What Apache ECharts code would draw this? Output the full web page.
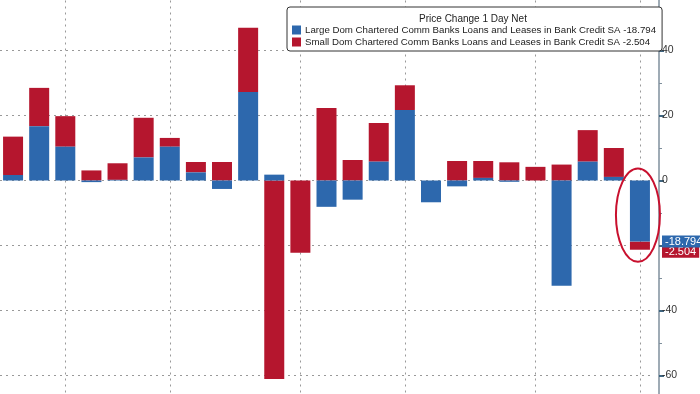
<!DOCTYPE html>
<html><head><meta charset="utf-8">
<script src="https://cdn.jsdelivr.net/npm/echarts@6/dist/echarts.min.js"></script>
<style>html,body{margin:0;padding:0;background:#fff;overflow:hidden;width:700px;height:394px;position:relative}#c{position:absolute;left:0;top:-20px;width:700px;height:466px}</style>
</head><body><div id="c"></div>
<script>
const categories = ['W1','W2','W3','W4','W5','W6','W7','W8','W9','W10','W11','W12','W13','W14','W15','W16','W17','W18','W19','W20','W21','W22','W23','W24','W25'];
const largeBanks = [1.7,16.7,10.4,-0.5,0.2,7.1,10.4,2.5,-2.6,27.2,1.8,0,-8.1,-5.9,5.8,21.7,-6.7,-1.8,0.8,-0.4,0,-32.4,5.8,1.1,-18.794];
const smallBanks = [11.8,11.8,9.4,3.1,5.1,12.2,2.7,3.2,5.7,19.8,-61.1,-22.2,22.3,6.3,11.9,7.6,0,6.0,5.2,5.6,4.2,4.9,9.7,8.9,-2.504];
const monthStartIdx = [2,6,11,15,20,24];
const largeName = 'Large Dom Chartered Comm Banks Loans and Leases in Bank Credit SA';
const smallName = 'Small Dom Chartered Comm Banks Loans and Leases in Bank Credit SA';
const titleText = 'Price Change 1 Day Net';

const BLUE = '#2d68ad', RED = '#b5162e';
const lastL = largeBanks[largeBanks.length-1];
const lastS = smallBanks[smallBanks.length-1];
const lastTotal = lastL + lastS;
const FONT = 'Liberation Sans';
const SHIFT = 20; // chart canvas starts 20px above the page

const chart = echarts.init(document.getElementById('c'));
const dotted = {color:'#999', type:[2,4], width:1};
const hidden = {color:'rgba(0,0,0,0)', width:0};
chart.setOption({
  animation:false,
  backgroundColor:'#fff',
  textStyle:{fontFamily:FONT},
  title:{text:titleText, left:473, top:14+SHIFT, padding:0, textAlign:'center',
    textStyle:{fontSize:10, fontWeight:'normal', color:'#222', fontFamily:FONT}, z:10},
  legend:{
    data:[largeName, smallName], orient:'vertical', left:287, top:7+SHIFT,
    padding:[18,6,4,5], itemGap:2, itemWidth:9, itemHeight:9, icon:'rect',
    backgroundColor:'#fff', borderColor:'#333', borderWidth:1, borderRadius:3,
    textStyle:{fontSize:9.7, color:'#222', fontFamily:FONT, padding:[0,0,0,-1]},
    formatter: n => n === largeName ? n + ' ' + lastL.toFixed(3) : n + ' ' + lastS.toFixed(3),
    selectedMode:false, z:8
  },
  grid:{left:-4, right:47, top:0, bottom:0, containLabel:false},
  xAxis:{type:'category', data:categories, axisLine:{show:false}, axisTick:{show:false},
    axisLabel:{show:false}, splitLine:{show:false}},
  yAxis:{type:'value', position:'right', offset:6, min:-80, max:60, interval:20,
    axisLine:{show:true, lineStyle:{color:'#7f8f9c', width:1.5}},
    axisTick:{show:true, length:5, lineStyle:{color:'#3f6580', width:2}},
    minorTick:{show:true, splitNumber:2, length:3, lineStyle:{color:'#7f8f9c'}},
    axisLabel:{color:'#333', fontSize:10.5, margin:3, fontFamily:FONT},
    splitLine:{show:true, lineStyle:dotted}},
  series:[
    {name:'grid-v', type:'line', data:[], z:0, zlevel:0, silent:true,
      markLine:{silent:true, symbol:'none', z:0, label:{show:false}, lineStyle:dotted,
        data: monthStartIdx.map(i => ({xAxis: categories[i]}))}},
    {name:largeName, type:'bar', stack:'t', data:largeBanks, barWidth:20, clip:false,
      itemStyle:{color:BLUE}, z:3,
      markLine:{silent:true, symbol:'none', z:6, lineStyle:hidden,
        label:{show:true, position:'end', distance:9, formatter:lastL.toFixed(3), color:'#fff', backgroundColor:BLUE,
          padding:[1,3,0,3], fontSize:11, fontFamily:FONT, opacity:1},
        data:[{yAxis:lastL}]}},
    {name:smallName, type:'bar', stack:'t', data:smallBanks, barWidth:20, clip:false,
      itemStyle:{color:RED}, z:2,
      markLine:{silent:true, symbol:'none', z:5, lineStyle:hidden,
        label:{show:true, position:'end', distance:9, offset:[0,2], formatter:lastS.toFixed(3), color:'#fff', backgroundColor:RED,
          padding:[1,3,0,3], fontSize:11, fontFamily:FONT, opacity:1},
        data:[{yAxis:lastTotal}]}}
  ]
});
const xC = chart.convertToPixel({xAxisIndex:0}, categories[categories.length-1]);
const y0 = chart.convertToPixel({yAxisIndex:0}, 0);
const yE = chart.convertToPixel({yAxisIndex:0}, lastTotal);
chart.setOption({graphic:[{type:'ellipse', z:20, silent:true,
  shape:{cx:xC-2, cy:(y0+yE)/2, rx:22, ry:(yE-y0)/2+12},
  style:{fill:'none', stroke:'#c8102e', lineWidth:2}}]});
</script></body></html>
